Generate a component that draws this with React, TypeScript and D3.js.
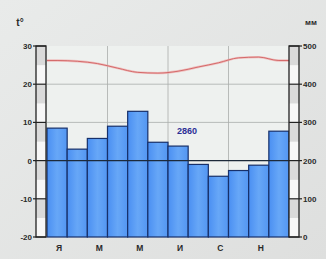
import React from "react";
import * as d3 from "d3";

const months = ["Я", "Ф", "М", "А", "М", "И", "И", "А", "С", "О", "Н", "Д"];
const shownMonths = [0, 2, 4, 6, 8, 10];
const precipitation = [285, 230, 258, 290, 329, 248, 238, 190, 159, 174, 188, 277];
const temperature = [26.2, 26.0, 25.4, 24.2, 23.1, 22.9, 23.4, 24.5, 25.6, 26.9, 27.1, 26.2];
const tempTicks = [30, 20, 10, 0, -10, -20];
const precipTicks = [500, 400, 300, 200, 100, 0];
const totalLabel = "2860";

const W = 326;
const H = 259;
const left = 47;
const right = 289;
const top = 46;
const bottom = 237;

export default function App() {
  const x = d3.scaleBand<number>().domain(d3.range(12)).range([left, right]).padding(0);
  const yT = d3.scaleLinear().domain([-20, 30]).range([bottom, top]);
  const yP = d3.scaleLinear().domain([0, 500]).range([bottom, top]);
  const bw = x.bandwidth();

  const pts: [number, number][] = temperature.map((t, i) => [x(i)! + bw / 2, yT(t)]);
  const full: [number, number][] = [[left, pts[0][1]], ...pts, [right, pts[pts.length - 1][1]]];
  const line = d3.line().curve(d3.curveMonotoneX)(full) || "";

  const segs = d3.range(-20, 30, 5);
  const font = "'Liberation Sans', Arial, sans-serif";

  const scaleBar = (x0: number) => (
    <g>
      {segs.map((s, i) => (
        <rect key={s} x={x0} y={yT(s + 5)} width={10} height={yT(s) - yT(s + 5)}
          fill={i % 2 === 0 ? "#f7f7f7" : "#dadada"} />
      ))}
      <rect x={x0} y={top} width={10} height={bottom - top} fill="none" stroke="#222" strokeWidth={1.3} />
    </g>
  );

  return (
    <div style={{ position: "fixed", left: 0, top: 0 }}>
      <svg width={W} height={H} style={{ display: "block" }}>
        <defs>
          <linearGradient id="bg" x1="0" y1="0" x2="1" y2="1">
            <stop offset="0" stopColor="#e9ebea" />
            <stop offset="1" stopColor="#dedfde" />
          </linearGradient>
          <linearGradient id="barg" x1="0" y1="0" x2="1" y2="0">
            <stop offset="0" stopColor="#4a8ff2" />
            <stop offset="0.5" stopColor="#67a7f7" />
            <stop offset="1" stopColor="#5396f2" />
          </linearGradient>
        </defs>
        <rect width={W} height={H} fill="url(#bg)" />
        <rect x={left} y={top} width={right - left} height={bottom - top} fill="#eef1ef" />

        {/* horizontal gridlines */}
        {tempTicks.filter(t => t !== 0 && t !== 30 && t !== -20).map(t => (
          <line key={t} x1={left} x2={right} y1={yT(t)} y2={yT(t)} stroke="#a9adab" strokeWidth={0.8} />
        ))}
        {/* vertical gridlines */}
        {[3, 6, 9].map(i => (
          <line key={i} x1={x(i)!} x2={x(i)!} y1={top} y2={bottom} stroke="#a9adab" strokeWidth={0.8} />
        ))}

        {/* bars */}
        {precipitation.map((p, i) => (
          <rect key={i} x={x(i)!} y={yP(p)} width={bw} height={bottom - yP(p)}
            fill="url(#barg)" stroke="#17306a" strokeWidth={1.2} />
        ))}

        {/* zero line */}
        <line x1={left - 12} x2={right + 10} y1={yT(0)} y2={yT(0)} stroke="#1d2a3a" strokeWidth={1.2} />

        {/* temperature line */}
        <path d={line} fill="none" stroke="#f0a0a0" strokeWidth={2.4} opacity={0.6} />
        <path d={line} fill="none" stroke="#d06060" strokeWidth={0.9} />

        {scaleBar(36)}
        {scaleBar(289)}

        {/* tick marks */}
        {tempTicks.map(t => (
          <g key={t}>
            <line x1={33} x2={46} y1={yT(t)} y2={yT(t)} stroke="#222" strokeWidth={1.2} />
            <text x={32} y={yT(t) + 3} textAnchor="end" fontSize={8} fontWeight="bold" fill="#2a2a2a" fontFamily={font}>{t}</text>
          </g>
        ))}
        {precipTicks.map(p => (
          <g key={p}>
            <line x1={289} x2={302} y1={yP(p)} y2={yP(p)} stroke="#222" strokeWidth={1.2} />
            <text x={303} y={yP(p) + 3} textAnchor="start" fontSize={8} fontWeight="bold" fill="#2a2a2a" fontFamily={font}>{p}</text>
          </g>
        ))}

        {/* month labels */}
        {shownMonths.map(i => (
          <text key={i} x={x(i)! + bw / 2 + 2} y={251} textAnchor="middle" fontSize={8.5} fontWeight="bold" fill="#2a2a2a" fontFamily={font}>{months[i]}</text>
        ))}

        <text x={20} y={26} textAnchor="middle" fontSize={10} fontWeight="bold" fill="#2a2a2a" fontFamily={font}>t°</text>
        <text x={311} y={25} textAnchor="middle" fontSize={8} fontWeight="bold" fill="#2a2a2a" fontFamily={font}>мм</text>
        <text x={187} y={134} textAnchor="middle" fontSize={9} fontWeight="bold" fill="#2b2f96" fontFamily={font}>{totalLabel}</text>
      </svg>
    </div>
  );
}
